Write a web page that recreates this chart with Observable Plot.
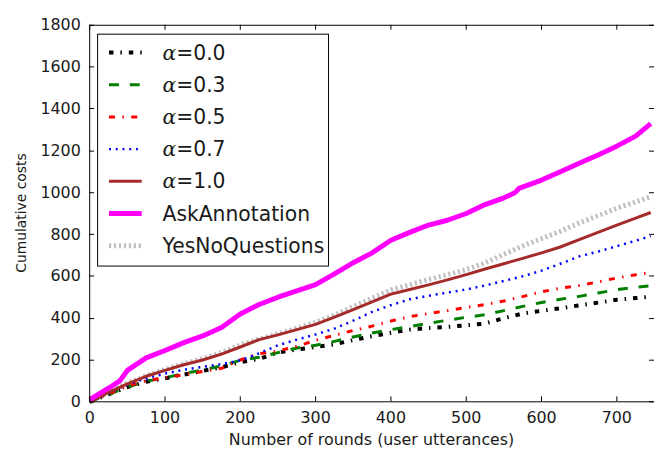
<!DOCTYPE html>
<html><head><meta charset="utf-8">
<script src="https://cdn.jsdelivr.net/npm/d3@7"></script>
<script src="https://cdn.jsdelivr.net/npm/@observablehq/plot@0.6"></script>
<style>
html,body{margin:0;padding:0;overflow:hidden;background:#fff;width:654px;height:453px;}
#chart{width:654px;height:453px;overflow:hidden;position:relative;}
</style></head><body><div id="chart"></div>
<script>
// ---- data ----
const rounds = [0, 25, 50, 75, 100, 125, 150, 175, 200, 225, 250, 275, 300, 325, 350, 375, 400, 425, 450, 475, 500, 525, 550, 575, 600, 625, 650, 675, 700, 725, 745];
const alpha00 = [0, 35, 70, 96, 112, 130, 148, 165, 190, 205, 235, 250, 262, 275, 295, 314, 330, 345, 353, 358, 366, 374, 400, 422, 435, 447, 461, 474, 488, 496, 502];
const alpha03 = [0, 35, 70, 98, 115, 135, 152, 172, 198, 213, 235, 257, 270, 289, 310, 329, 345, 360, 375, 390, 404, 416, 436, 456, 475, 490, 504, 520, 536, 547, 555];
const alpha05 = [0, 38, 75, 100, 115, 130, 145, 160, 200, 230, 243, 265, 294, 318, 341, 362, 386, 407, 422, 436, 451, 465, 482, 503, 526, 543, 556, 573, 592, 607, 618];
const alpha07 = [0, 42, 82, 112, 135, 153, 167, 180, 198, 232, 270, 297, 322, 350, 388, 430, 462, 490, 507, 522, 537, 556, 578, 600, 627, 660, 695, 718, 744, 770, 792];
const alpha10 = [0, 45, 86, 122, 150, 177, 200, 228, 262, 297, 320, 345, 370, 405, 441, 478, 515, 537, 559, 583, 608, 635, 660, 686, 712, 740, 775, 810, 845, 878, 905];
const yesNoQuestions = [0, 45, 90, 125, 155, 182, 205, 235, 272, 300, 325, 352, 380, 415, 455, 495, 535, 560, 585, 608, 632, 664, 705, 745, 780, 815, 855, 890, 925, 955, 980];
const askRounds = [0, 25, 40, 50, 75, 100, 125, 150, 175, 200, 225, 250, 275, 300, 325, 350, 375, 400, 425, 450, 475, 500, 525, 550, 565, 570, 600, 625, 650, 675, 700, 725, 745];
const askAnnotation = [10, 65, 100, 150, 210, 245, 283, 315, 355, 420, 465, 500, 530, 560, 612, 665, 712, 772, 810, 845, 868, 900, 943, 975, 1000, 1020, 1060, 1100, 1140, 1180, 1222, 1270, 1330];
const seriesNames = ["α=0.0", "α=0.3", "α=0.5", "α=0.7", "α=1.0", "AskAnnotation", "YesNoQuestions"];
const xTicks = [0, 100, 200, 300, 400, 500, 600, 700];
const yTicks = [0, 200, 400, 600, 800, 1000, 1200, 1400, 1600, 1800];
const xLabel = "Number of rounds (user utterances)";
const yLabel = "Cumulative costs";

// ---- styles ----
const styles = {
  "α=0.0": {stroke: "#000000", width: 4, dash: "4.5,7,1.5,7"},
  "α=0.3": {stroke: "#007f00", width: 3, dash: "10,11"},
  "α=0.5": {stroke: "#ff0000", width: 3, dash: "6,7.5,1.5,7.5"},
  "α=0.7": {stroke: "#0000ff", width: 2.5, dash: "2,4.8"},
  "α=1.0": {stroke: "#a52a2a", width: 3, dash: null},
  "AskAnnotation": {stroke: "#ff00ff", width: 5, dash: null},
  "YesNoQuestions": {stroke: "#bfbfbf", width: 5, dash: "2.2,2.8"}
};
const seriesData = {
  "α=0.0": [rounds, alpha00],
  "α=0.3": [rounds, alpha03],
  "α=0.5": [rounds, alpha05],
  "α=0.7": [rounds, alpha07],
  "α=1.0": [rounds, alpha10],
  "AskAnnotation": [askRounds, askAnnotation],
  "YesNoQuestions": [rounds, yesNoQuestions]
};
const drawOrder = ["YesNoQuestions", "α=0.0", "α=0.3", "α=0.5", "α=0.7", "α=1.0", "AskAnnotation"];

const lineMarks = drawOrder.map(name => {
  const [xs, ys] = seriesData[name];
  const rows = xs.map((x, i) => ({x, y: ys[i]}));
  const s = styles[name];
  return Plot.line(rows, {x: "x", y: "y", stroke: s.stroke, strokeWidth: s.width,
    strokeDasharray: s.dash || undefined, strokeLinecap: "butt", strokeLinejoin: "round"});
});

const textColor = "#1a1a1a";
const fmt = d3.format("d");
const svg = Plot.plot({
  width: 660, height: 453,
  marginLeft: 90, marginRight: 0, marginTop: 25, marginBottom: 48,
  x: {domain: [0, 750]},
  y: {domain: [0, 1800]},
  style: {fontFamily: "'DejaVu Sans', sans-serif", fontSize: "16px", color: textColor, background: "white", overflow: "visible"},
  marks: [
    ...lineMarks,
    Plot.frame({stroke: "black", strokeWidth: 1}),
    Plot.axisX({ticks: xTicks, anchor: "bottom", tickSize: 0, tickPadding: 10, tickFormat: fmt, label: null, fontSize: 16}),
    Plot.axisY({ticks: yTicks, anchor: "left", tickSize: 0, tickPadding: 9, tickFormat: fmt, label: null, fontSize: 16})
  ]
});
document.getElementById("chart").appendChild(svg);

const sx = svg.scale("x"), sy = svg.scale("y");
const sel = d3.select(svg);
const [x0, x1] = sx.range, [y0, y1] = sy.range; // y0 bottom, y1 top
// inward tick marks (matplotlib classic style)
const tk = sel.append("g").attr("stroke", "black").attr("stroke-width", 1);
xTicks.forEach(v => {
  const px = Math.round(sx.apply(v)) + 0.5;
  tk.append("line").attr("x1", px).attr("x2", px).attr("y1", y0).attr("y2", y0 - 5);
  tk.append("line").attr("x1", px).attr("x2", px).attr("y1", y1).attr("y2", y1 + 5);
});
yTicks.forEach(v => {
  const py = Math.round(sy.apply(v)) + 0.5;
  tk.append("line").attr("x1", x0).attr("x2", x0 + 5).attr("y1", py).attr("y2", py);
  tk.append("line").attr("x1", x1).attr("x2", x1 - 5).attr("y1", py).attr("y2", py);
});
// axis labels
sel.append("text")
  .attr("x", (x0 + x1) / 2).attr("y", 444)
  .attr("text-anchor", "middle").attr("dominant-baseline", "central")
  .attr("font-size", 16).attr("fill", textColor).text(xLabel);
sel.append("text")
  .attr("transform", `translate(21,${(y0 + y1) / 2}) rotate(-90)`)
  .attr("text-anchor", "middle").attr("dominant-baseline", "central")
  .attr("font-size", 14).attr("fill", textColor).text(yLabel);

// legend
const lg = sel.append("g");
lg.append("rect").attr("x", 98.5).attr("y", 34.5).attr("width", 233).attr("height", 234)
  .attr("fill", "white").attr("stroke", "black").attr("stroke-width", 1);
seriesNames.forEach((name, i) => {
  const y = 53 + i * 32.5;
  const s = styles[name];
  lg.append("line").attr("x1", 110).attr("x2", 143).attr("y1", y).attr("y2", y)
    .attr("stroke", s.stroke).attr("stroke-width", s.width)
    .attr("stroke-dasharray", s.dash).attr("stroke-linecap", "butt");
  const t = lg.append("text").attr("x", 164).attr("y", y).attr("dominant-baseline", "central")
    .attr("text-anchor", "start").attr("font-size", 20.5).attr("fill", textColor);
  if (name.startsWith("α")) {
    t.append("tspan").attr("font-family", "'DejaVu Serif', serif").attr("font-style", "italic").text("α");
    t.append("tspan").text(name.slice(1));
  } else {
    t.text(name);
  }
});
</script></body></html>
